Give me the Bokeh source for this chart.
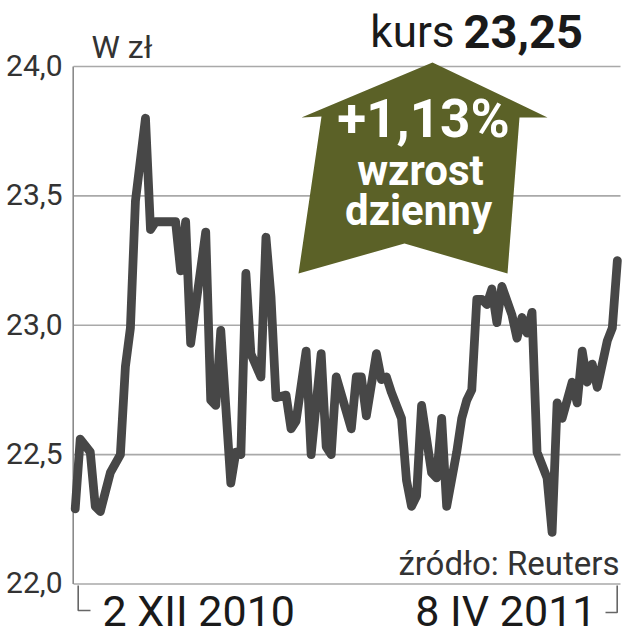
from bokeh.plotting import figure
from bokeh.models import Range1d
from bokeh.core.properties import value
from bokeh.embed import file_html
from bokeh.resources import INLINE

# ---- data (trading-day index, closing price in zł) ----
days = [0, 1, 3, 4, 5, 7, 9, 10, 11, 12, 14, 15, 16, 20, 21, 22, 23, 26, 27, 28,
        29, 31, 32, 33, 34, 35, 37, 38, 39, 40, 42, 43, 44, 46, 47, 49, 50, 51, 52, 55,
        56, 57, 58, 60, 61, 62, 63, 65, 66, 67, 68, 69, 71, 72, 73, 74, 76, 77, 78, 79,
        80, 81, 82, 83, 84, 85, 87, 88, 89, 90, 91, 92, 94, 95, 96, 97, 99, 100, 101, 102,
        103, 104, 106, 107, 108]
prices = [22.29, 22.56, 22.51, 22.30, 22.28, 22.43, 22.50, 22.84, 22.99, 23.48,
          23.80, 23.37, 23.40, 23.40, 23.21, 23.40, 22.93, 23.36, 22.71, 22.69,
          22.98, 22.39, 22.51, 22.50, 23.20, 22.89, 22.80, 23.34, 23.11, 22.72,
          22.73, 22.60, 22.63, 22.90, 22.50, 22.89, 22.53, 22.50, 22.80, 22.60,
          22.80, 22.80, 22.65, 22.89, 22.79, 22.80, 22.74, 22.64, 22.40, 22.30,
          22.34, 22.69, 22.43, 22.41, 22.64, 22.30, 22.51, 22.64, 22.71, 22.75,
          23.10, 23.10, 23.08, 23.14, 23.01, 23.15, 23.04, 22.95, 23.03, 22.97,
          23.05, 22.51, 22.41, 22.20, 22.70, 22.64, 22.78, 22.70, 22.90, 22.78,
          22.85, 22.76, 22.94, 22.99, 23.25]
y_ticks = [22.0, 22.5, 23.0, 23.5, 24.0]
y_tick_labels = ["22,0", "22,5", "23,0", "23,5", "24,0"]
date_labels = ["2 XII 2010", "8 IV 2011"]
last_price_label = "23,25"
change_label = "+1,13%"

# ---- layout helpers (canvas pixel -> data units) ----
X0, PXD = 74.7, 5.02        # pixel of day 0, pixels per day
Y0, PXU = 66.0, 258.75      # pixel of 24.0, pixels per 1 zł


def fx(px):
    return (px - X0) / PXD


def fy(py):
    return 24.0 - (py - Y0) / PXU


def fb(baseline_px, size):
    # text anchor so that the glyphs' baseline lands on baseline_px
    return fy(baseline_px - 0.41 * size)


W, H = 622, 640
p = figure(width=W, height=H, output_backend="svg", toolbar_location=None,
           x_range=Range1d(fx(0), fx(W)), y_range=Range1d(fy(H), fy(0)),
           x_axis_type=None, y_axis_type=None, min_border=0,
           outline_line_color=None, background_fill_color="white",
           border_fill_color="white")

GRID = "#a9a9a9"
# horizontal grid lines
p.segment(x0=[fx(73)] * len(y_ticks), x1=[fx(620)] * len(y_ticks),
          y0=y_ticks, y1=y_ticks, line_color=GRID, line_width=1.6)
# vertical axis line
p.segment(x0=[fx(72.7)], x1=[fx(72.7)], y0=[y_ticks[0]], y1=[y_ticks[-1]],
          line_color="#8a8a8a", line_width=1.6)

# tick labels
p.text(x=[fx(62)] * len(y_ticks), y=[t + 0.004 for t in y_ticks], text=y_tick_labels,
       text_font=value("Roboto"), text_font_size=value("30px"),
       text_color="#333333", text_align="right", text_baseline="middle")

# unit
p.text(x=[fx(91)], y=[fb(60, 32)], text=["W zł"], text_font=value("Roboto"),
       text_font_size=value("32px"), text_color="#333333",
       text_align="left", text_baseline="alphabetic")

# headline "kurs 23,25"
p.text(x=[fx(454)], y=[fb(50, 44)], text=["kurs"], text_font=value("Roboto"),
       text_font_size=value("44px"), text_color="#1a1a1a",
       text_align="right", text_baseline="alphabetic")
p.text(x=[fx(463)], y=[fb(50, 47)], text=[last_price_label],
       text_font=value("Roboto"), text_font_style="bold",
       text_font_size=value("47px"), text_color="#1a1a1a",
       text_align="left", text_baseline="alphabetic")

# arrow
arrow_px = [(432, 62), (547, 117), (519, 117), (507, 273), (404, 243),
            (298, 273), (321, 116), (301, 117)]
p.patch(x=[fx(a) for a, b in arrow_px], y=[fy(b) for a, b in arrow_px],
        fill_color="#5b6127", line_color=None)
p.text(x=[fx(423)], y=[fb(140, 53)], text=[change_label], text_font=value("Roboto"),
       text_font_style="bold", text_font_size=value("53px"), text_color="white",
       text_align="center", text_baseline="alphabetic")
p.text(x=[fx(420), fx(418)], y=[fb(187, 42), fb(227, 42)], text=["wzrost", "dzienny"],
       text_font=value("Roboto"), text_font_style="bold",
       text_font_size=value("42px"), text_color="white",
       text_align="center", text_baseline="alphabetic")

# price line
p.line(x=days, y=prices, line_color="#474747", line_width=8.8,
       line_join="round", line_cap="round")

# source
p.text(x=[fx(619)], y=[fb(577, 33)], text=["źródło: Reuters"], text_font=value("Roboto"),
       text_font_size=value("33px"), text_color="#333333",
       text_align="right", text_baseline="alphabetic")

# date brackets
p.line(x=[fx(77.7), fx(77.7), fx(90)], y=[fy(585), fy(610), fy(610)],
       line_color="#666666", line_width=1.6)
p.line(x=[fx(605), fx(616.7), fx(616.7)], y=[fy(612), fy(612), fy(585)],
       line_color="#666666", line_width=1.6)
p.text(x=[fx(102), fx(596)], y=[fb(628, 43), fb(628, 43)], text=date_labels,
       text_font=value("Roboto"), text_font_size=value("43px"),
       text_color="#1a1a1a", text_align=["left", "right"], text_baseline="alphabetic")

open("out.html", "w").write(file_html(p, INLINE))
